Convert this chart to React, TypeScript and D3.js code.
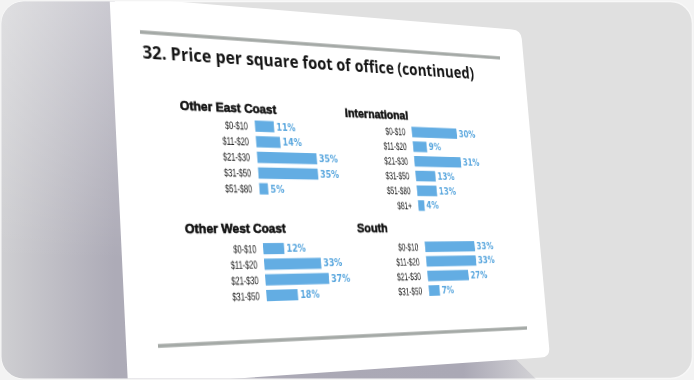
import React, { useMemo } from "react";
import * as d3 from "d3";

// ---------- data ----------
const chartTitle = "32. Price per square foot of office (continued)";
const panelTitles = ["Other East Coast", "International", "Other West Coast", "South"];

const eastCats = ["$0-$10", "$11-$20", "$21-$30", "$31-$50", "$51-$80"];
const eastVals = [11, 14, 35, 35, 5];

const intlCats = ["$0-$10", "$11-$20", "$21-$30", "$31-$50", "$51-$80", "$81+"];
const intlVals = [30, 9, 31, 13, 13, 4];

const westCats = ["$0-$10", "$11-$20", "$21-$30", "$31-$50"];
const westVals = [12, 33, 37, 18];

const southCats = ["$0-$10", "$11-$20", "$21-$30", "$31-$50"];
const southVals = [33, 33, 27, 7];

// ---------- layout ----------
const W = 694;
const H = 380;
const FW = 450; // flat page frame (between the two rules)
const FH = 300;
// where the flat frame's corners land in the photo (rule end points)
const frameDst = [
  [140, 32],
  [500, 58],
  [527, 328],
  [158, 346],
];
const pageQuad = { tl: [110, 2], tr: [521, 30], br: [550, 357], bl: [128, 386] };

const BAR = "#63ade3";
const VAL = "#5aa7de";
const RULE = "#a4a9a6";

function homography(src: number[][], dst: number[][]) {
  const A: number[][] = [];
  const b: number[] = [];
  for (let i = 0; i < 4; i++) {
    const [x, y] = src[i];
    const [X, Y] = dst[i];
    A.push([x, y, 1, 0, 0, 0, -X * x, -X * y]);
    b.push(X);
    A.push([0, 0, 0, x, y, 1, -Y * x, -Y * y]);
    b.push(Y);
  }
  const n = 8;
  for (let c = 0; c < n; c++) {
    let p = c;
    for (let r = c + 1; r < n; r++) if (Math.abs(A[r][c]) > Math.abs(A[p][c])) p = r;
    [A[c], A[p]] = [A[p], A[c]];
    [b[c], b[p]] = [b[p], b[c]];
    for (let r = 0; r < n; r++) {
      if (r === c) continue;
      const f = A[r][c] / A[c][c];
      for (let k = c; k < n; k++) A[r][k] -= f * A[c][k];
      b[r] -= f * b[c];
    }
  }
  return b.map((v, i) => v / A[i][i]);
}

function roundedPage() {
  const { tl, tr, br, bl } = pageQuad;
  const r = 9;
  const toward = (a: number[], b: number[], d: number) => {
    const dx = b[0] - a[0];
    const dy = b[1] - a[1];
    const L = Math.hypot(dx, dy);
    return [a[0] + (dx / L) * d, a[1] + (dy / L) * d];
  };
  const p = d3.path();
  p.moveTo(tl[0], tl[1] - 6);
  const a1 = toward(tr, tl, r);
  const a2 = toward(tr, br, r);
  const b1 = toward(br, tr, r);
  const b2 = toward(br, bl, r);
  p.lineTo(a1[0], a1[1]);
  p.quadraticCurveTo(tr[0], tr[1], a2[0], a2[1]);
  p.lineTo(b1[0], b1[1]);
  p.quadraticCurveTo(br[0], br[1], b2[0], b2[1]);
  p.lineTo(bl[0], bl[1]);
  p.lineTo(tl[0] - 0.5, tl[1] - 6);
  p.closePath();
  return p.toString();
}

type Panel = {
  title: string;
  cats: string[];
  vals: number[];
  hx: number;
  hy: number;
  lx: number;
  bx: number;
  y0: number;
  step: number;
};

const panels: Panel[] = [
  { title: panelTitles[0], cats: eastCats, vals: eastVals, hx: 38.7, hy: 74.7, lx: 114, bx: 122.5, y0: 88.2, step: 15.75 },
  { title: panelTitles[1], cats: intlCats, vals: intlVals, hx: 232.7, hy: 74.7, lx: 308.7, bx: 317.3, y0: 88.2, step: 15.75 },
  { title: panelTitles[2], cats: westCats, vals: westVals, hx: 36, hy: 194.7, lx: 114, bx: 122, y0: 210.6, step: 15.3 },
  { title: panelTitles[3], cats: southCats, vals: southVals, hx: 236.3, hy: 194.7, lx: 312.3, bx: 321.3, y0: 210.6, step: 15.3 },
];

const x = d3.scaleLinear().domain([0, 40]).range([0, 81]);

function PanelView({ p }: { p: Panel }) {
  const y = d3
    .scaleBand<string>()
    .domain(p.cats)
    .range([p.y0 - p.step / 2, p.y0 - p.step / 2 + p.cats.length * p.step])
    .paddingInner(0.28)
    .paddingOuter(0.14);
  return (
    <g>
      <text
        x={p.hx}
        y={p.hy}
        fontFamily="'Liberation Sans', Arial, sans-serif"
        fontWeight={700}
        fontSize={13.6}
        fill="#111"
        stroke="#111"
        strokeWidth={0.6}
      >
        {p.title}
      </text>
      {p.cats.map((c, i) => {
        const yc = (y(c) as number) + y.bandwidth() / 2;
        return (
          <g key={c}>
            <text
              transform={`translate(${p.lx},${yc}) scale(0.76,1)`}
              dy="0.36em"
              textAnchor="end"
              fontFamily="'Liberation Sans', Arial, sans-serif"
              fontSize={11}
              fill="#1c1c1c"
            >
              {c}
            </text>
            <rect x={p.bx} y={y(c)} width={x(p.vals[i])} height={y.bandwidth()} fill={BAR} />
            <text
              x={p.bx + x(p.vals[i]) + 2.7}
              y={yc}
              dy="0.37em"
              fontFamily="'DejaVu Sans', sans-serif"
              fontWeight={700}
              fontSize={9.6}
              fill={VAL}
            >
              {p.vals[i] + "%"}
            </text>
          </g>
        );
      })}
    </g>
  );
}

export default function App() {
  const h = useMemo(
    () =>
      homography(
        [
          [0, 0],
          [FW, 0],
          [FW, FH],
          [0, FH],
        ],
        frameDst
      ),
    []
  );
  const m3d = `matrix3d(${h[0]},${h[3]},0,${h[6]},${h[1]},${h[4]},0,${h[7]},0,0,1,0,${h[2]},${h[5]},0,1)`;

  return (
    <div
      style={{
        position: "fixed",
        left: 0,
        top: 0,
        width: W,
        height: H,
        overflow: "hidden",
        background: "#f3f3f3",
      }}
    >
      <svg width={W} height={H} style={{ position: "absolute", left: 0, top: 0 }}>
        <defs>
          <clipPath id="frame">
            <rect x={1.5} y={1.5} width={W - 3} height={H - 3} rx={22} />
          </clipPath>
          <linearGradient id="shadowH" gradientUnits="userSpaceOnUse" x1={0} y1={0} x2={545} y2={0}>
            <stop offset="0" stopColor="#cfcfd2" />
            <stop offset="0.21" stopColor="#adabb7" />
            <stop offset="0.85" stopColor="#aaa8b5" />
            <stop offset="0.95" stopColor="#c9c8ce" />
            <stop offset="1" stopColor="#d6d6d8" />
          </linearGradient>
          <linearGradient id="shadowV" gradientUnits="userSpaceOnUse" x1={0} y1={0} x2={0} y2={260}>
            <stop offset="0" stopColor="#ffffff" stopOpacity={0.35} />
            <stop offset="1" stopColor="#ffffff" stopOpacity={0} />
          </linearGradient>
        </defs>
        <rect x={1.5} y={1.5} width={W - 3} height={H - 3} rx={22} fill="#e0e0e0" stroke="#f8f8f8" strokeWidth={1.5} />
        <g clipPath="url(#frame)">
          <path d="M0,0 L114,0 L300,340 L516,359.5 L538,381 L0,381 Z" fill="url(#shadowH)" />
          <path d="M0,0 L114,0 L300,340 L516,359.5 L538,381 L0,381 Z" fill="url(#shadowV)" />
          <path d={roundedPage()} fill="#ffffff" />
        </g>
      </svg>
      <div
        style={{
          position: "absolute",
          left: 0,
          top: 0,
          width: FW,
          height: FH,
          transformOrigin: "0 0",
          transform: m3d,
        }}
      >
        <svg width={FW} height={FH} style={{ overflow: "visible", display: "block" }}>
          <line x1={0} x2={FW} y1={0} y2={0} stroke={RULE} strokeWidth={3.6} />
          <line x1={0} x2={FW} y1={FH} y2={FH} stroke={RULE} strokeWidth={3.6} />
          <text
            x={1.4}
            y={26.4}
            fontFamily="'Open Sans', 'Liberation Sans', sans-serif"
            fontWeight={700}
            fontSize={18.2}
            fill="#151515"
          >
            {chartTitle}
          </text>
          {panels.map((p) => (
            <PanelView key={p.title} p={p} />
          ))}
        </svg>
      </div>
    </div>
  );
}
